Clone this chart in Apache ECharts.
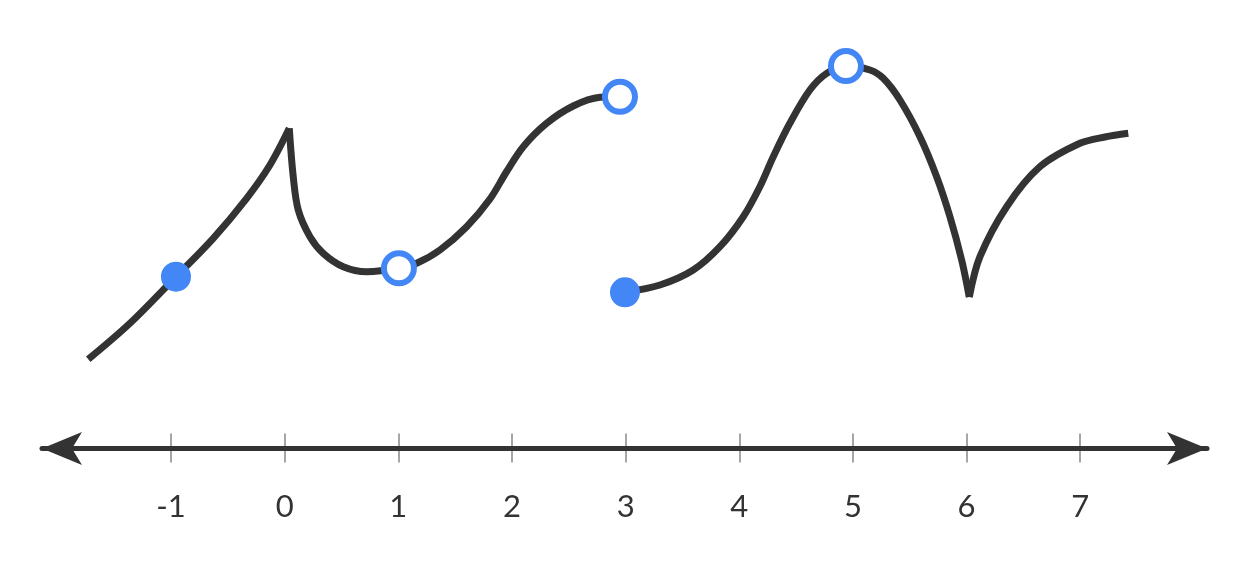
<!DOCTYPE html>
<html>
<head>
<meta charset="utf-8">
<script src="https://cdn.jsdelivr.net/npm/echarts@6/dist/echarts.min.js"></script>
<style>
html,body{margin:0;padding:0;background:#fff;}
#chart{width:1250px;height:581px;}
</style>
</head>
<body>
<div id="chart"></div>
<script>
// Tick labels on the number line
const xTicks = [-1, 0, 1, 2, 3, 4, 5, 6, 7];

// Curve pieces [x, y] (y measured above the number line)
const segA = [[-1.729, 0.892], [-1.362, 1.252], [-0.957, 1.718], [-0.629, 2.102], [-0.335, 2.502], [-0.130, 2.835], [0.040, 3.202]];
const segB = [[0.040, 3.202], [0.075, 2.718], [0.119, 2.385], [0.222, 2.118], [0.339, 1.952], [0.515, 1.818], [0.721, 1.768],
  [1.005, 1.802], [1.161, 1.852], [1.366, 1.985], [1.601, 2.218], [1.806, 2.495], [1.953, 2.770], [2.099, 3.018],
  [2.305, 3.252], [2.539, 3.425], [2.774, 3.512], [2.950, 3.518]];
const segC = [[2.994, 1.562], [3.302, 1.635], [3.595, 1.785], [3.830, 2.018], [4.035, 2.318], [4.181, 2.618], [4.299, 2.918],
  [4.445, 3.252], [4.621, 3.585], [4.769, 3.752], [4.939, 3.825], [5.150, 3.785], [5.267, 3.702], [5.414, 3.485],
  [5.590, 3.118], [5.737, 2.718], [5.854, 2.318], [5.957, 1.885], [6.024, 1.515]];
const segD = [[6.024, 1.515], [6.118, 1.918], [6.353, 2.418], [6.646, 2.818], [6.998, 3.052], [7.218, 3.115], [7.423, 3.152]];

// Marked points
const filledPoints = [[-0.957, 1.718], [2.994, 1.562]];
const openPoints = [[1.005, 1.802], [2.950, 3.518], [4.939, 3.825]];

const DARK = '#333333';
const BLUE = '#4287f5';
const XMIN = -2.136, XMAX = 8.116;

const chart = echarts.init(document.getElementById('chart'), null, {renderer: 'canvas'});

function lineSeries(data) {
  return {
    type: 'line',
    data: data,
    smooth: 0.33,
    symbol: 'none',
    lineStyle: {color: DARK, width: 7, cap: 'butt'},
    z: 2,
    silent: true
  };
}

const option = {
  animation: false,
  backgroundColor: '#ffffff',
  grid: {left: 42, right: 43, top: 48.5, bottom: 132.5, containLabel: false},
  xAxis: [
    {
      type: 'value', min: XMIN, max: XMAX, position: 'bottom', z: 1,
      axisLine: {show: false},
      axisTick: {show: true, inside: false, length: 14, customValues: xTicks,
        lineStyle: {color: '#a6a6a6', width: 2}},
      axisLabel: {show: true, customValues: xTicks, margin: 43,
        fontFamily: 'Lato, "Open Sans", sans-serif', fontSize: 31, color: '#333333'},
      splitLine: {show: false}
    },
    {
      type: 'value', min: XMIN, max: XMAX, position: 'bottom', z: 1,
      axisLine: {show: false},
      axisTick: {show: true, inside: true, length: 15, customValues: xTicks,
        lineStyle: {color: '#a6a6a6', width: 2}},
      axisLabel: {show: false},
      splitLine: {show: false}
    },
    {
      type: 'value', min: XMIN, max: XMAX, position: 'bottom', z: 3,
      axisLine: {show: true, symbol: ['arrow', 'arrow'], symbolSize: [24.75, 40],
        lineStyle: {color: DARK, width: 5}},
      axisTick: {show: false},
      axisLabel: {show: false},
      splitLine: {show: false}
    }
  ],
  yAxis: {type: 'value', min: 0, max: 4, show: false, splitLine: {show: false}},
  series: [
    lineSeries(segA),
    lineSeries(segB),
    lineSeries(segC),
    lineSeries(segD),
    {
      type: 'scatter', data: filledPoints, symbol: 'circle', symbolSize: 30, z: 5,
      itemStyle: {color: BLUE, opacity: 1}, silent: true
    },
    {
      type: 'scatter', data: openPoints, symbol: 'circle', symbolSize: 30, z: 5,
      itemStyle: {color: '#ffffff', borderColor: BLUE, borderWidth: 6, opacity: 1}, silent: true
    }
  ]
};
chart.setOption(option);
</script>
</body>
</html>
